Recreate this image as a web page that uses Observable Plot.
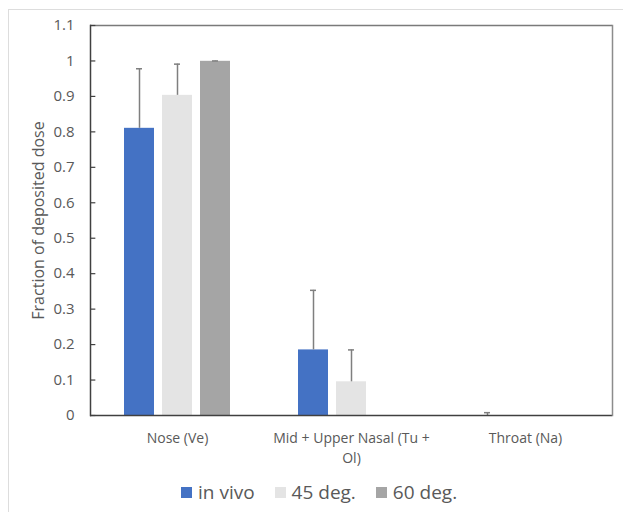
<!DOCTYPE html>
<html><head><meta charset="utf-8">
<script src="https://cdn.jsdelivr.net/npm/d3@7"></script>
<script src="https://cdn.jsdelivr.net/npm/@observablehq/plot@0.6"></script>
<style>
body{margin:0;background:#fff;}
#wrap{position:relative;width:623px;height:512px;overflow:hidden;font-family:"Open Sans",sans-serif;background:#fff;}
#border{position:absolute;left:8px;top:9px;width:700px;height:600px;border-left:1.5px solid #dddddd;border-top:1.5px solid #dddddd;}
#chart{position:absolute;left:0;top:0;}
#legend{position:absolute;top:479px;left:181px;display:flex;align-items:center;font-size:19px;color:#595959;white-space:nowrap;}
.item{display:flex;align-items:center;margin-right:20px;}
.sw{width:11px;height:11px;margin-right:6px;}
</style></head>
<body><div id="wrap"><div id="border"></div><div id="chart"></div><div id="legend"></div></div>
<script>
const categories = ["Nose (Ve)", "Mid + Upper Nasal (Tu + Ol)", "Throat (Na)"];
const xTickLabels = ["Nose (Ve)", "Mid + Upper Nasal (Tu +\nOl)", "Throat (Na)"];
const series = ["in vivo", "45 deg.", "60 deg."];
const seriesColors = ["#4472C4", "#E4E4E4", "#A5A5A5"];
const inVivo = [0.81, 0.185, 0];
const deg45 = [0.903, 0.095, 0];
const deg60 = [0.999, 0, 0];
const inVivoErr = [0.168, 0.168, 0.008];
const deg45Err = [0.088, 0.09, 0];
const deg60Err = [0.001, 0, 0];
const yTicks = [0, 0.1, 0.2, 0.3, 0.4, 0.5, 0.6, 0.7, 0.8, 0.9, 1, 1.1];
const yTickLabels = ["0", "0.1", "0.2", "0.3", "0.4", "0.5", "0.6", "0.7", "0.8", "0.9", "1", "1.1"];
const yLabel = "Fraction of deposited dose";

const valuesBySeries = [inVivo, deg45, deg60];
const errBySeries = [inVivoErr, deg45Err, deg60Err];
const rows = [];
series.forEach((s, i) => categories.forEach((c, j) => {
  rows.push({cat: c, series: s, value: valuesBySeries[i][j], err: errBySeries[i][j]});
}));
const errRows = rows.filter(d => d.err > 0);

const W = 623, ML = 89, MR = 10;
const facetWidth = (W - ML - MR) / categories.length;
const font = '"Open Sans", sans-serif';
const chart = Plot.plot({
  width: W, height: 470,
  marginLeft: ML, marginRight: MR, marginTop: 25, marginBottom: 55,
  style: {fontFamily: font, fontSize: "13px", color: "#595959", background: "transparent"},
  fx: {domain: categories, padding: 0, label: null, axis: null},
  x: {domain: series, paddingInner: 0.22, paddingOuter: 0.87, axis: null},
  y: {domain: [0, 1.1], axis: null},
  color: {domain: series, range: seriesColors},
  marks: [
    Plot.barY(rows, {fx: "cat", x: "series", y: "value", fill: "series"}),
    Plot.ruleX(errRows, {fx: "cat", x: "series", y1: "value", y2: d => d.value + d.err, stroke: "#7f7f7f", strokeWidth: 1.5}),
    Plot.tickY(errRows, {fx: "cat", x: "series", y: d => d.value + d.err, stroke: "#7f7f7f", strokeWidth: 1.5, insetLeft: 12, insetRight: 12}),
    Plot.ruleY([1.1], {stroke: "#7a7a7a", strokeWidth: 1.5}),
    Plot.ruleY([0], {stroke: "#404040", strokeWidth: 1.5}),
    Plot.frame({anchor: "left", facetAnchor: "left", stroke: "#404040", strokeWidth: 1.5}),
    Plot.frame({anchor: "right", facetAnchor: "right", stroke: "#8c8c8c", strokeWidth: 1.5}),
    Plot.tickY(yTicks, {y: d => d, facetAnchor: "left", insetRight: facetWidth - 6, stroke: "#404040", strokeWidth: 1.2}),
    Plot.axisY({ticks: yTicks, tickFormat: d => yTickLabels[yTicks.indexOf(d)], tickSize: 0, tickPadding: 16,
      fill: "#595959", fontSize: 15, label: null}),
    Plot.text([yLabel], {text: d => d, frameAnchor: "left", textAnchor: "middle", rotate: -90, dx: -52, fontSize: 16, fill: "#595959", facetAnchor: "left"}),
    Plot.axisFx({anchor: "bottom", tickFormat: d => xTickLabels[categories.indexOf(d)], tickSize: 0, tickPadding: 14, fontSize: 14, fill: "#595959", label: null, lineHeight: 1.4})
  ]
});
document.getElementById("chart").appendChild(chart);

const legend = document.getElementById("legend");
series.forEach((s, i) => {
  const item = document.createElement("div");
  item.className = "item";
  const sw = document.createElement("span");
  sw.className = "sw";
  sw.style.background = seriesColors[i];
  const t = document.createElement("span");
  t.textContent = s;
  item.appendChild(sw); item.appendChild(t);
  legend.appendChild(item);
});
</script>
</body></html>
